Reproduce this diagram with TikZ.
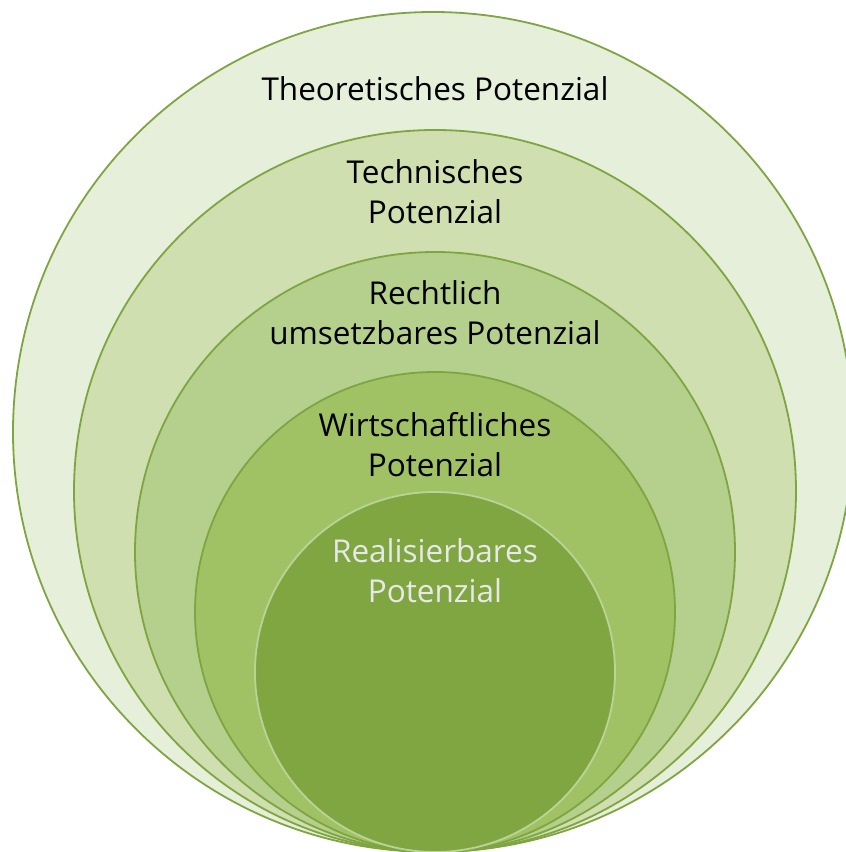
\documentclass[tikz,border=0pt]{standalone}
\usepackage{fontspec}
\setmainfont{Open Sans}
\definecolor{lineG}{HTML}{7FA542}
\definecolor{f1}{HTML}{E5EFD9}
\definecolor{f2}{HTML}{CFDFB0}
\definecolor{f3}{HTML}{B5D08C}
\definecolor{f4}{HTML}{A0C264}
\definecolor{f5}{HTML}{80A642}
\definecolor{lightline}{HTML}{B9D496}
\definecolor{lighttext}{HTML}{E8E8E8}
\begin{document}
\begin{tikzpicture}[x=1pt,y=1pt,
  ring/.style={circle, draw=lineG, line width=1.8pt, inner sep=0pt, minimum size=#1},
  lbl/.style={font=\fontsize{31.5}{40}\selectfont, align=center, anchor=base, inner sep=0pt}]
\useasboundingbox (0,0) rectangle (846,852);
\clip (0,0) rectangle (846,852);
\node[ring=840pt, fill=f1] (c1) at (433,420) {};
\node[ring=722pt, fill=f2] (c2) at (435,361) {};
\node[ring=600pt, fill=f3] (c3) at (435,300) {};
\node[ring=480pt, fill=f4] (c4) at (435,240) {};
\node[ring=360pt, fill=f5, draw=lightline] (c5) at (435,180) {};
\node[lbl] (t1) at (435,751) {Theoretisches Potenzial};
\node[lbl] (t2) at (435,628) {Technisches\\Potenzial};
\node[lbl] (t3) at (435,507) {Rechtlich\\umsetzbares Potenzial};
\node[lbl] (t4) at (435,375) {Wirtschaftliches\\Potenzial};
\node[lbl, text=lighttext] (t5) at (435,249) {Realisierbares\\Potenzial};
\end{tikzpicture}
\end{document}
